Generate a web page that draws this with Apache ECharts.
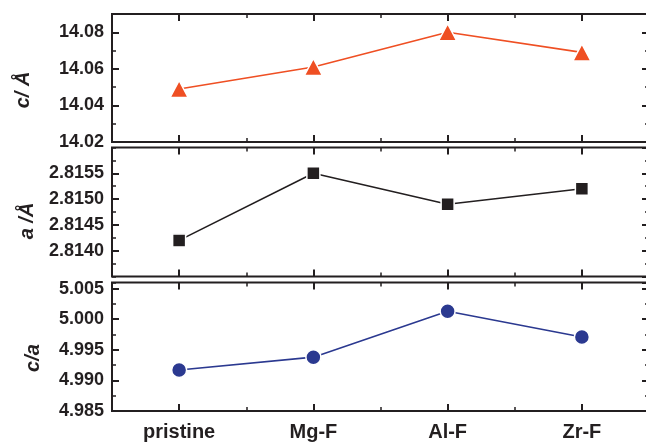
<!DOCTYPE html>
<html>
<head>
<meta charset="utf-8">
<script src="https://cdn.jsdelivr.net/npm/echarts@6/dist/echarts.min.js"></script>
<style>
  html, body { margin: 0; padding: 0; background: #fff; }
  #chart { width: 646px; height: 442px; }
</style>
</head>
<body>
<div id="chart"></div>
<script>
// Lattice parameters of the pristine and fluoride-coated samples
const categories = ['pristine', 'Mg-F', 'Al-F', 'Zr-F'];
const cValues  = [14.049, 14.061, 14.080, 14.069];   // c / Å
const aValues  = [2.8142, 2.8155, 2.8149, 2.8152];   // a / Å
const caValues = [4.9917, 4.9938, 5.0013, 4.9971];   // c/a

// Axis ranges: [min, max, labelled step, decimals]
const cAxis  = [14.02, 14.09, 0.02, 2];
const aAxis  = [2.8135, 2.8160, 0.0005, 4];
const caAxis = [4.985, 5.006, 0.005, 3];

const ink = '#231f20';
const font = 'Liberation Sans, Arial, sans-serif';

const panels = [
  { values: cValues,  axis: cAxis,  color: '#ef4f23', symbol: 'triangle', size: [18, 17], hideMin: false, title: 'c/ Å', titleX: 23, titleY: 90 },
  { values: aValues,  axis: aAxis,  color: ink,       symbol: 'rect',     size: 13,       hideMin: true,  title: 'a /Å', titleX: 27, titleY: 221 },
  { values: caValues, axis: caAxis, color: '#2b3990', symbol: 'circle',   size: 15,       hideMin: false, title: 'c/a',  titleX: 33, titleY: 358 }
];

// the right frame edge sits just past the canvas edge
const grids = [
  { left: 112, width: 537, top: 14,    height: 128 },
  { left: 112, width: 537, top: 147.5, height: 129 },
  { left: 112, width: 537, top: 282.5, height: 128.5 }
].map(g => Object.assign(g, {
  show: true, borderColor: ink, borderWidth: 2, backgroundColor: 'transparent',
  containLabel: false, outerBoundsMode: 'none'
}));

const xAxes = [];
const yAxes = [];
const series = [];
const graphics = [];

panels.forEach((p, i) => {
  const last = i === panels.length - 1;
  // x: major ticks at the categories, minor ticks at the band edges, bottom and top
  ['bottom', 'top'].forEach(pos => {
    xAxes.push({
      type: 'category', gridIndex: i, position: pos, data: categories, boundaryGap: true,
      axisLine: { show: false },
      axisTick: { show: true, inside: true, alignWithLabel: true, length: 7, lineStyle: { color: ink, width: 2 } },
      axisLabel: {
        show: last && pos === 'bottom', margin: 11,
        color: ink, fontFamily: font, fontWeight: 'bold', fontSize: 20
      },
      splitLine: { show: false }
    });
    xAxes.push({
      type: 'category', gridIndex: i, position: pos, data: categories, boundaryGap: true,
      axisLine: { show: false },
      axisTick: { show: true, inside: true, length: 4, lineStyle: { color: ink, width: 1.5 } },
      axisLabel: { show: false },
      splitLine: { show: false }
    });
  });
  // y: labelled major ticks and half-step minor ticks, left and right
  const [min, max, step, dec] = p.axis;
  ['left', 'right'].forEach(pos => {
    yAxes.push({
      type: 'value', gridIndex: i, position: pos, min: min, max: max, interval: step,
      axisLine: { show: false },
      axisTick: { show: true, inside: true, length: 7, lineStyle: { color: ink, width: 2 } },
      axisLabel: {
        show: pos === 'left', margin: 8, showMaxLabel: false, showMinLabel: !p.hideMin,
        color: ink, fontFamily: font, fontWeight: 'bold', fontSize: 18,
        formatter: v => v.toFixed(dec)
      },
      splitLine: { show: false }
    });
    yAxes.push({
      type: 'value', gridIndex: i, position: pos, min: min, max: max, interval: step / 2,
      axisLine: { show: false },
      axisTick: { show: true, inside: true, length: 4, lineStyle: { color: ink, width: 1.5 } },
      axisLabel: { show: false },
      splitLine: { show: false }
    });
  });
  series.push({
    type: 'line', xAxisIndex: i * 4, yAxisIndex: i * 4, data: p.values,
    symbol: p.symbol, symbolSize: p.size, showAllSymbol: true,
    lineStyle: { color: p.color, width: 1.6 },
    itemStyle: { color: p.color, borderColor: '#fff', borderWidth: 1.5 },
    emphasis: { disabled: true }, z: 3
  });
  graphics.push({
    type: 'text', x: p.titleX, y: p.titleY, rotation: Math.PI / 2,
    style: {
      text: p.title, fill: ink, font: 'italic bold 20px ' + font,
      textAlign: 'center', textVerticalAlign: 'middle'
    }
  });
});

const chart = echarts.init(document.getElementById('chart'), null, { renderer: 'canvas' });
chart.setOption({
  animation: false,
  backgroundColor: '#fff',
  grid: grids,
  xAxis: xAxes,
  yAxis: yAxes,
  series: series,
  graphic: graphics
});
</script>
</body>
</html>
